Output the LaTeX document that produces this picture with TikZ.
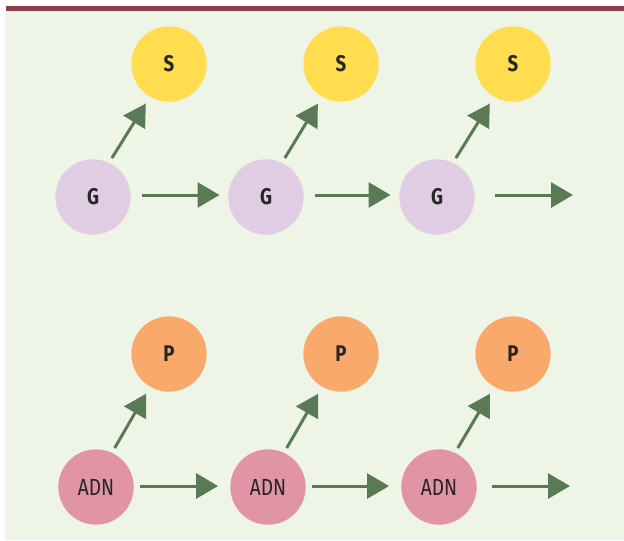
\documentclass[tikz,border=0pt]{standalone}
\usepackage{fontspec}
\setmainfont{Fira Sans}[FakeStretch=0.82]
\usetikzlibrary{arrows.meta}
\definecolor{bgc}{HTML}{EFF5E6}
\definecolor{barc}{HTML}{8E3F4D}
\definecolor{arrc}{HTML}{5A7A55}
\definecolor{sc}{HTML}{FFDD4F}
\definecolor{gc}{HTML}{E0CCE3}
\definecolor{pc}{HTML}{FAA96C}
\definecolor{adnc}{HTML}{E094A5}
\tikzset{> = {Triangle[length=16.5pt,width=18.75pt]},
	bubble/.style={circle,minimum size=56.5pt,inner sep=0pt,text=black!85,font=\fontsize{17.5}{17.5}\selectfont},
	letter/.style={bubble,font=\fontsize{17}{17}\selectfont\bfseries},
	arr/.style={->,draw=arrc,fill=arrc,line width=2.25pt}}
\begin{document}
\begin{tikzpicture}[x=.75pt,y=-.75pt]
	\useasboundingbox (0,0) rectangle (624,540);
	\fill[bgc] (5,11) rectangle (624,540);
	\fill[barc] (6,6) rectangle (624,11);
	%first row
	\node[letter,fill=gc] (G1) at (93,197){G};
	\node[letter,fill=gc] (G2) at (266,197){G};
	\node[letter,fill=gc] (G3) at (437,197){G};
	\node[letter,fill=sc] (S1) at (169,64){S};
	\node[letter,fill=sc] (S2) at (341,64){S};
	\node[letter,fill=sc] (S3) at (513,64){S};
	\coordinate (E1) at (573,195);
	%second row
	\node[bubble,fill=adnc] (A1) at (96,487){ADN};
	\node[bubble,fill=adnc] (A2) at (268,487){ADN};
	\node[bubble,fill=adnc] (A3) at (439,487){ADN};
	\node[letter,fill=pc] (P1) at (169,354){P};
	\node[letter,fill=pc] (P2) at (341,354){P};
	\node[letter,fill=pc] (P3) at (513,354){P};
	\coordinate (E2) at (570,486);
	\foreach \a/\b in {G1/S1,G2/S2,G3/S3,A1/P1,A2/P2,A3/P3}
		\draw[arr,shorten <=4pt,shorten >=6pt] (\a.65)--(\b.240);
	\foreach \a/\b in {G1/G2,G2/G3}
		\draw[arr,shorten <=8.6pt,shorten >=6.4pt] (\a.east|-0,195)--(\b.west|-0,195);
	\foreach \a/\b in {A1/A2,A2/A3}
		\draw[arr,shorten <=4.5pt,shorten >=9pt] (\a.east|-0,486)--(\b.west|-0,486);
	\draw[arr,shorten <=15pt] (G3.east|-0,195)--(E1);
	\draw[arr,shorten <=11pt] (A3.east|-0,486)--(E2);
\end{tikzpicture}
\end{document}
